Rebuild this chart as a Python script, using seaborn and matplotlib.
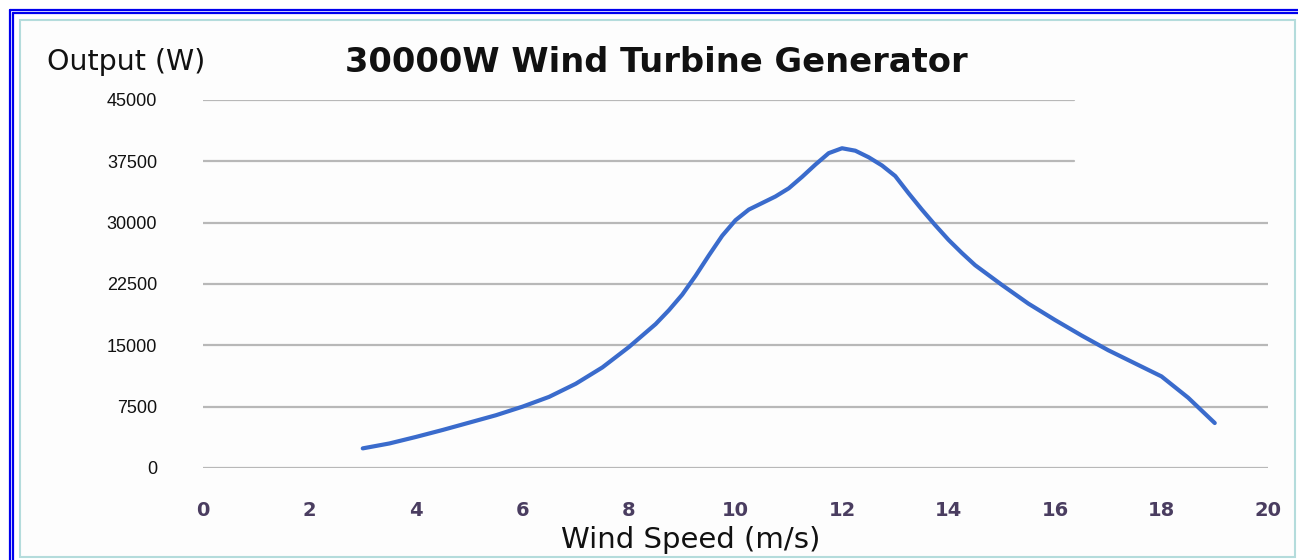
import matplotlib
matplotlib.use("Agg")
import matplotlib.pyplot as plt
import seaborn as sns
import pandas as pd
from matplotlib.lines import Line2D
from matplotlib.patches import Rectangle

# valores (curva de potencia)
wind_speed = [3, 3.5, 4, 4.5, 5, 5.5, 6, 6.5, 7, 7.5, 8, 8.5, 8.75, 9, 9.25, 9.5,
              9.75, 10, 10.25, 10.5, 10.75, 11, 11.25, 11.5, 11.75, 12, 12.25,
              12.5, 12.75, 13, 13.25, 13.5, 13.75, 14, 14.25, 14.5, 15, 15.5, 16,
              16.5, 17, 17.5, 18, 18.5, 19]
output_w = [2400, 3000, 3800, 4650, 5550, 6450, 7500, 8700, 10300, 12300, 14800,
            17600, 19300, 21200, 23500, 26000, 28400, 30300, 31600, 32400, 33200,
            34200, 35600, 37100, 38500, 39100, 38800, 38000, 37000, 35700, 33600,
            31600, 29700, 27900, 26300, 24800, 22400, 20100, 18100, 16200, 14400,
            12800, 11200, 8600, 5500]
y_ticks = [0, 7500, 15000, 22500, 30000, 37500, 45000]
x_ticks = [0, 2, 4, 6, 8, 10, 12, 14, 16, 18, 20]
# linhas de grade que param antes (area da legenda)
short_grid = [37500, 45000]

df = pd.DataFrame({"wind": wind_speed, "output": output_w})

sns.set_style("white")
plt.rcParams["font.family"] = ["DejaVu Sans"]

W, H = 1298, 560
fig = plt.figure(figsize=(W / 100, H / 100), dpi=100)
fig.patch.set_facecolor("white")

# moldura azul dupla e caixa interna
fig.add_artist(Rectangle((20 / W, 1 - 557 / H), 1275 / W, 537 / H,
                         transform=fig.transFigure, facecolor="#fdfdfd",
                         edgecolor="#b4dcdc", lw=1.5, zorder=0))
for p in (10, 13):
    fig.add_artist(Line2D([p / W, 1], [1 - p / H, 1 - p / H], color="#0000ee", lw=1.6))
    fig.add_artist(Line2D([p / W, p / W], [0, 1 - p / H], color="#0000ee", lw=1.6))

ax = fig.add_axes([203 / W, 1 - 468 / H, (1268 - 203) / W, (468 - 100) / H])
ax.set_facecolor("none")

for y in y_ticks:
    xmax = 871 / 1065 if y in short_grid else 1
    ax.axhline(y, xmin=0, xmax=xmax, color="#b8b8b8", lw=1.6, zorder=1)

sns.lineplot(data=df, x="wind", y="output", ax=ax, color="#3a6bcc", lw=3,
             solid_joinstyle="round", solid_capstyle="round", zorder=3)

ax.set_xlim(0, 20)
ax.set_ylim(0, 45000)
ax.set_xticks(x_ticks)
ax.set_yticks(y_ticks)
ax.set_xticklabels([str(v) for v in x_ticks], fontsize=14, fontweight="bold",
                   color="#4a3d60")
ax.set_yticklabels([str(v) for v in y_ticks], fontsize=13, family="Liberation Sans",
                   color="#111111")
ax.tick_params(axis="x", length=0, pad=24)
ax.tick_params(axis="y", length=0, pad=33)
ax.set_xlabel("")
ax.set_ylabel("")
sns.despine(ax=ax, left=True, bottom=True)

fig.text(656 / W, 1 - 62 / H, "30000W Wind Turbine Generator", ha="center",
         va="center", fontsize=24.3, fontweight="bold", color="#111111")
fig.text(47 / W, 1 - 62 / H, "Output (W)", ha="left", va="center", fontsize=20.5,
         color="#111111")
fig.text(691 / W, 1 - 540 / H, "Wind Speed (m/s)", ha="center", va="center",
         fontsize=21, color="#111111")

fig.savefig("out.png", dpi=100, facecolor="white")
